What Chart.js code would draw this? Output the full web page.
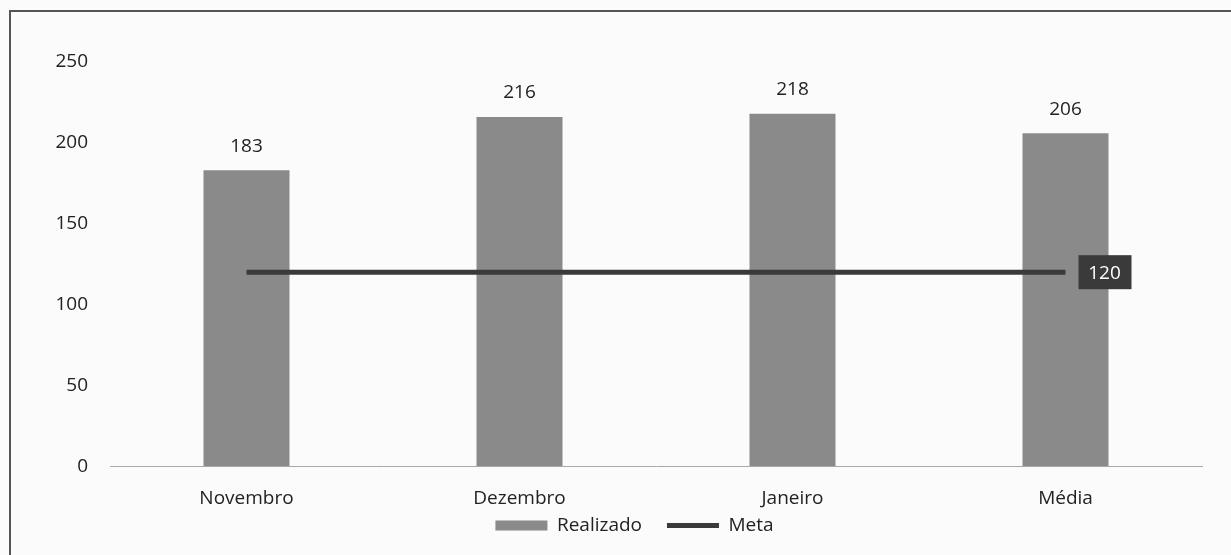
<!DOCTYPE html>
<html>
<head>
<meta charset="utf-8">
<script src="https://cdn.jsdelivr.net/npm/chart.js@4"></script>
<style>
  html, body { margin: 0; padding: 0; background: #fbfbfb; }
  #wrap { position: relative; width: 1231px; height: 555px; overflow: hidden; }
  #frame {
    position: absolute; left: 9px; top: 10px; right: -5px; bottom: -5px;
    border-left: 2px solid #555; border-top: 2px solid #555;
  }
  canvas { position: absolute; left: 0; top: 0; }
</style>
</head>
<body>
<div id="wrap">
  <div id="frame"></div>
  <canvas id="chart" width="1231" height="555"></canvas>
</div>
<script>
const categories = ["Novembro", "Dezembro", "Janeiro", "Média"];
const realizado = [183, 216, 218, 206];
const meta = [120, 120, 120, 120];
const yTicks = [0, 50, 100, 150, 200, 250];

Chart.defaults.font.family = "'Open Sans', sans-serif";
Chart.defaults.font.size = 19;
Chart.defaults.color = "#222";

// values above the bars, and the boxed label at the end of the target line
const labelsPlugin = {
  id: "labels",
  afterDatasetsDraw(chart) {
    const ctx = chart.ctx;
    ctx.save();
    ctx.font = "19px 'Open Sans', sans-serif";
    ctx.textAlign = "center";
    ctx.textBaseline = "middle";

    const bars = chart.getDatasetMeta(0).data;
    bars.forEach((bar, i) => {
      ctx.fillStyle = "#222";
      ctx.fillText(realizado[i], bar.x, bar.y - 24);
    });

    const pts = chart.getDatasetMeta(1).data;
    const last = pts[pts.length - 1];
    const bx = last.x + 13;
    ctx.fillStyle = "#3a3a3a";
    ctx.fillRect(bx, last.y - 17, 53, 34);
    ctx.fillStyle = "#fff";
    ctx.fillText(meta[meta.length - 1], bx + 26, last.y + 1);
    ctx.restore();
  },
};

// the legend sits closer to the axis labels than Chart.js would put it
const legendShift = {
  id: "legendShift",
  afterLayout(chart) {
    const lg = chart.legend;
    lg.top = 491;
    lg.bottom = chart.height;
    lg.height = lg.bottom - lg.top;
    lg.left += 29;
    lg.right += 29;
  },
};

new Chart(document.getElementById("chart"), {
  type: "bar",
  data: {
    labels: categories,
    datasets: [
      {
        label: "Realizado",
        data: realizado,
        backgroundColor: "#8a8a8a",
        categoryPercentage: 0.63,
        barPercentage: 0.5,
        pointStyle: "rect",
        order: 2,
      },
      {
        type: "line",
        label: "Meta",
        data: meta,
        borderColor: "#3a3a3a",
        backgroundColor: "#3a3a3a",
        borderWidth: 5,
        pointRadius: 0,
        pointStyle: "line",
        order: 1,
      },
    ],
  },
  options: {
    responsive: false,
    animation: false,
    layout: { padding: { left: 9, right: 29, top: 62, bottom: 0 } },
    scales: {
      x: {
        grid: { display: false },
        border: { display: true, color: "#a8a8a8", width: 1, dash: [2, 1] },
        ticks: { padding: 13 },
      },
      y: {
        min: 0,
        max: 250,
        afterBuildTicks(axis) {
          axis.ticks = yTicks.map((v) => ({ value: v }));
        },
        afterFit(axis) {
          axis.width = 101;
        },
        grid: { display: false, drawTicks: false },
        border: { display: false },
        ticks: { padding: 22 },
      },
    },
    plugins: {
      legend: {
        position: "bottom",
        maxHeight: 32,
        labels: {
          usePointStyle: true,
          pointStyleWidth: 52,
          boxHeight: 10,
          padding: 25,
          color: "#222",
          sort: (a, b) => a.datasetIndex - b.datasetIndex,
        },
      },
      tooltip: { enabled: false },
    },
  },
  plugins: [labelsPlugin, legendShift],
});
</script>
</body>
</html>
